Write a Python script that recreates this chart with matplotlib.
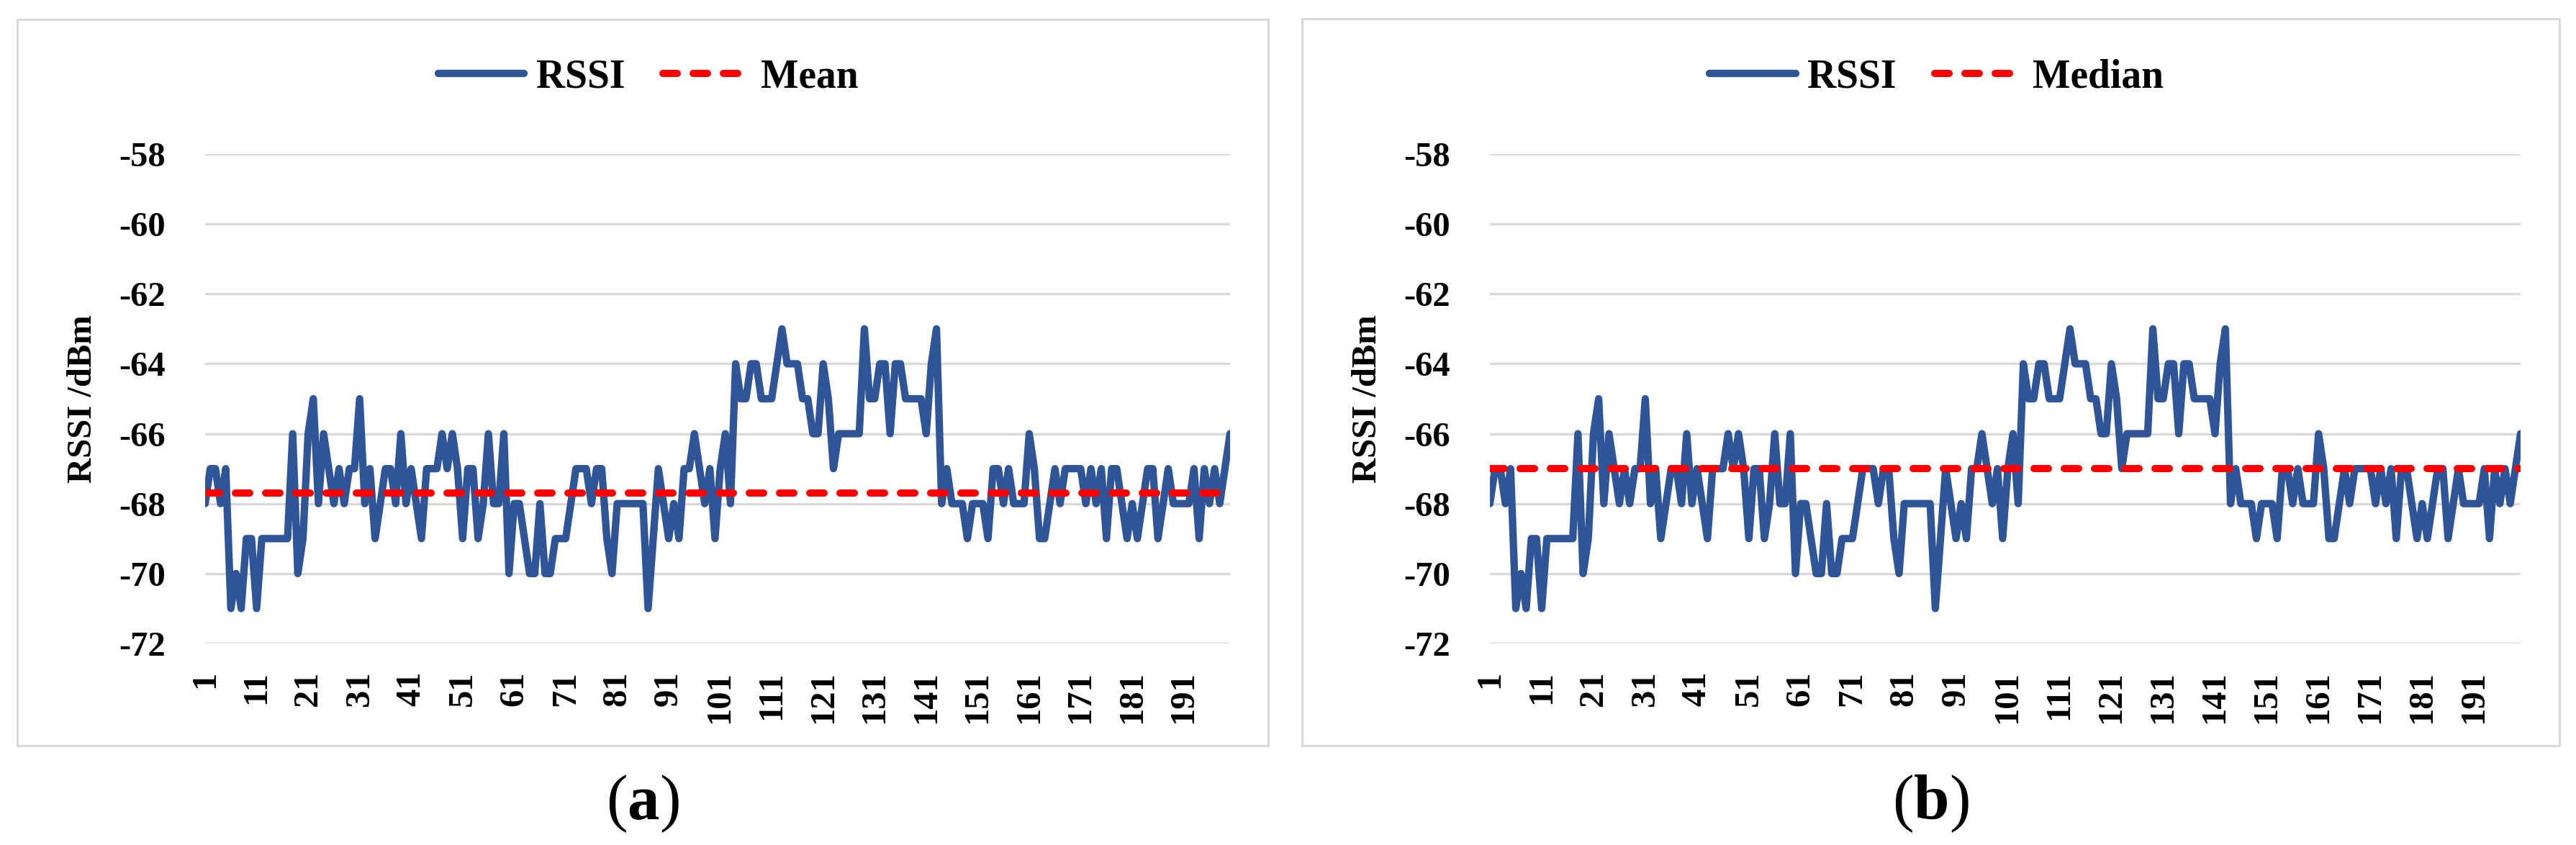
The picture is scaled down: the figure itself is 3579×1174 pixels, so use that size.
import numpy as np
import matplotlib
matplotlib.use("Agg")
import matplotlib.pyplot as plt
from matplotlib.patches import Rectangle

# ---------------- data ----------------
sample_index = list(range(1, 201))
rssi_dbm = [
    -68, -67, -67, -68, -67, -71, -70, -71, -69, -69,
    -71, -69, -69, -69, -69, -69, -69, -66, -70, -69,
    -66, -65, -68, -66, -67, -68, -67, -68, -67, -67,
    -65, -68, -67, -69, -68, -67, -67, -68, -66, -68,
    -67, -68, -69, -67, -67, -67, -66, -67, -66, -67,
    -69, -67, -67, -69, -68, -66, -68, -68, -66, -70,
    -68, -68, -69, -70, -70, -68, -70, -70, -69, -69,
    -69, -68, -67, -67, -67, -68, -67, -67, -69, -70,
    -68, -68, -68, -68, -68, -68, -71, -69, -67, -68,
    -69, -68, -69, -67, -67, -66, -67, -68, -67, -69,
    -67, -66, -68, -64, -65, -65, -64, -64, -65, -65,
    -65, -64, -63, -64, -64, -64, -65, -65, -66, -66,
    -64, -65, -67, -66, -66, -66, -66, -66, -63, -65,
    -65, -64, -64, -66, -64, -64, -65, -65, -65, -65,
    -66, -64, -63, -68, -67, -68, -68, -68, -69, -68,
    -68, -68, -69, -67, -67, -68, -67, -68, -68, -68,
    -66, -67, -69, -69, -68, -67, -68, -67, -67, -67,
    -67, -68, -67, -68, -67, -69, -67, -67, -68, -69,
    -68, -69, -68, -67, -67, -69, -68, -67, -68, -68,
    -68, -68, -67, -69, -67, -68, -67, -68, -67, -66,
]
mean_dbm = -67.7
median_dbm = -67.0
y_ticks = [-58, -60, -62, -64, -66, -68, -70, -72]
x_ticks = [1, 11, 21, 31, 41, 51, 61, 71, 81, 91,
           101, 111, 121, 131, 141, 151, 161, 171, 181, 191]
series_label = "RSSI"
ref_labels = ["Mean", "Median"]
captions = ["a", "b"]

# ---------------- style ----------------
plt.rcParams['font.family'] = ['Liberation Serif', 'DejaVu Serif']
plt.rcParams['mathtext.fontset'] = 'custom'
plt.rcParams['mathtext.rm'] = 'Liberation Serif'
plt.rcParams['mathtext.bf'] = 'Liberation Serif:bold'

W, H = 3579, 1174
DPI = 200
fig = plt.figure(figsize=(W / DPI, H / DPI), dpi=DPI)


def fx(px):
    return px / W


def fy(py):
    return 1 - py / H


BLUE = '#2F5597'
RED = '#FF0000'
GRID = '#D9D9D9'

panel_layout = [
    dict(box=(24, 27, 1762, 1036), ax=(285, 1709)),
    dict(box=(1809, 26, 3556, 1036), ax=(2070, 3502)),
]
ref_values = [mean_dbm, median_dbm]

for k, lay in enumerate(panel_layout):
    bx0, by0, bx1, by1 = lay['box']
    rect = Rectangle((fx(bx0), fy(by1)), fx(bx1) - fx(bx0), fy(by0) - fy(by1),
                     transform=fig.transFigure, fill=False, edgecolor=GRID,
                     linewidth=1.1, zorder=0)
    fig.add_artist(rect)

    l, r = lay['ax']
    ax = fig.add_axes([fx(l), fy(894), fx(r) - fx(l), fy(214) - fy(894)])
    ax.plot(sample_index, rssi_dbm, color=BLUE, lw=3.7,
            solid_joinstyle='round', solid_capstyle='round',
            label=series_label, zorder=3)
    ax.axhline(ref_values[k], color=RED, lw=3.6, dashes=(2.0, 2.2),
               dash_capstyle='round', label=ref_labels[k], zorder=4)

    ax.set_xlim(sample_index[0], sample_index[-1])
    ax.set_ylim(min(y_ticks), max(y_ticks))
    ax.set_yticks(y_ticks)
    ax.set_yticklabels([str(v) for v in y_ticks])
    ax.set_xticks(x_ticks)
    ax.set_xticklabels([str(v) for v in x_ticks])
    ax.grid(axis='y', color=GRID, lw=1.2)
    ax.grid(axis='x', visible=False)
    ax.set_axisbelow(True)
    for s in ax.spines.values():
        s.set_visible(False)
    ax.tick_params(length=0, labelsize=17.5)
    ax.tick_params(axis='x', pad=13.7, labelrotation=90)
    ax.tick_params(axis='y', pad=19.8)
    for lbl in ax.get_xticklabels() + ax.get_yticklabels():
        lbl.set_fontweight('bold')

    ax.set_ylabel('RSSI /dBm', fontsize=17.5, fontweight='bold')
    ax.yaxis.set_label_coords(-148 / (r - l), 0.5)

    cx = (bx0 + bx1) / 2
    ax.legend(loc='center', bbox_to_anchor=(fx(cx + 8), fy(107)),
              bbox_transform=fig.transFigure, ncol=2, frameon=False,
              prop={'size': 20, 'weight': 'bold'}, handlelength=2.15,
              handletextpad=0.3, columnspacing=0.95)

    fig.text(fx(cx), fy(1117), r'($\mathbf{' + captions[k] + r'}$)',
             fontsize=32, ha='center', va='center')

fig.savefig('out.png', dpi=DPI)
